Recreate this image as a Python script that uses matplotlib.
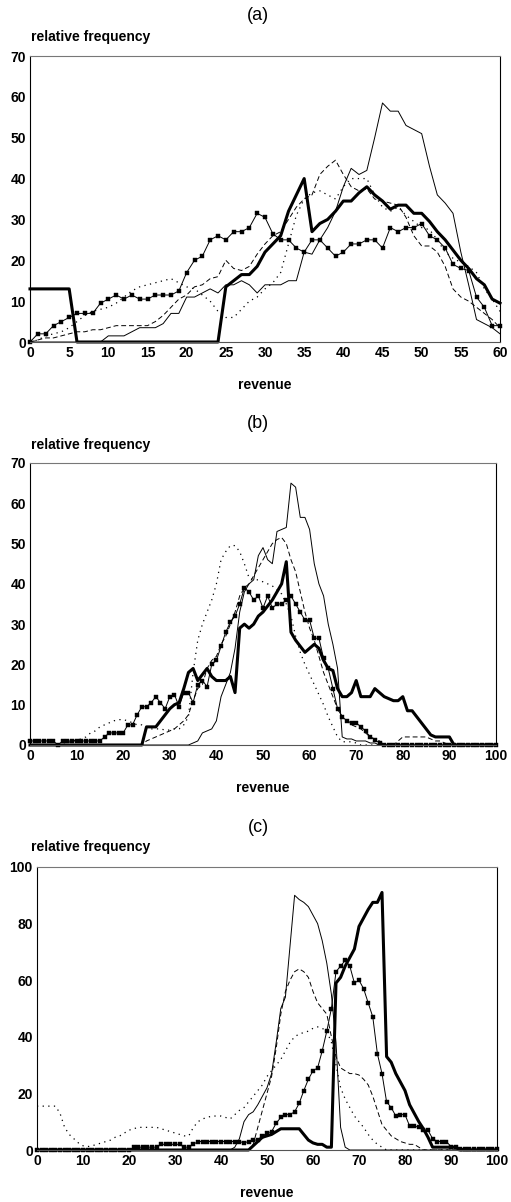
import matplotlib
matplotlib.use("Agg")
import matplotlib.pyplot as plt

plt.rcParams['font.family'] = ['Liberation Sans', 'DejaVu Sans']

# ---- panel (a): revenue 0..60 ----
a_x = list(range(61))
a_thin = [0, 0, 0, 0, 0, 0, 0, 0, 0, 0,
          1.5, 1.5, 1.5, 2.5, 3.5, 3.5, 3.5, 4.5, 7, 7,
          11, 11, 12, 13, 12, 14, 14, 15, 14, 12,
          14, 14, 14, 15, 15, 22, 21.5, 25, 28, 32,
          38, 42.5, 41, 42, 50, 58.5, 56.5, 56.5, 53, 52,
          51, 43, 36, 34, 31.5, 22, 14, 5.5, 4.5, 3.5,
          2]
a_dashed = [0, 0.5, 1, 1, 1.5, 2, 2.5, 2.5, 3, 3,
            3.5, 4, 4, 4, 4, 4, 5, 6.5, 8.5, 10.5,
            11.5, 13.5, 14, 15.5, 16, 20, 18, 17.5, 18.5, 21.5,
            24, 26, 27, 30, 33, 35, 36, 41, 43, 44.5,
            41, 38, 37, 37.5, 35, 34.5, 34, 33.5, 30.5, 26,
            23.5, 23.5, 22, 18.5, 13, 11, 10, 8.5, 7, 5.5,
            3.5]
a_dotted = [0, 0.5, 1.5, 2, 2.5, 3.5, 5, 6.5, 7.5, 8,
            8.5, 9.5, 11, 12.5, 13.5, 14, 14.5, 15, 15.5, 14.5,
            13.5, 13, 11.5, 10, 7.5, 6, 6, 8, 10, 11,
            13, 14.5, 17, 24, 31, 35, 36.5, 37, 36, 35,
            38, 40, 40, 40, 36, 33, 32, 33, 31, 29.5,
            28, 27.5, 25, 22, 20.5, 19.5, 18.5, 17, 13, 10.5,
            7.5]
a_thick = [13, 13, 13, 13, 13, 13, 0, 0, 0, 0,
           0, 0, 0, 0, 0, 0, 0, 0, 0, 0,
           0, 0, 0, 0, 0, 13.5, 15, 16.5, 16.5, 18.5,
           22, 24, 26, 32, 36, 40, 27, 29, 30, 32,
           34.5, 34.5, 36.5, 38, 36, 34.5, 32.5, 33.5, 33.5, 31.5,
           31.5, 29.5, 27, 25, 22.5, 20, 18, 15.5, 14, 10.5,
           9.5]
a_markers = [0, 2, 2, 4, 5, 6, 7, 7, 7, 9.5,
             10.5, 11.5, 10.5, 11.5, 10.5, 10.5, 11.5, 11.5, 11.5, 12.5,
             17, 20, 21, 25, 26, 25, 27, 27, 28, 31.5,
             30.5, 26.5, 25, 25, 23, 22, 25, 25, 23, 21,
             22, 24, 24, 25, 25, 23, 28, 27, 28, 28,
             29, 26, 25, 23, 19, 18, 17.5, 11, 8.5, 4,
             4]

# ---- panel (b): revenue 0..100 ----
b_x = list(range(101))
b_thin = [0] * 35 + [
    0.5, 1, 3, 3.5, 4, 6, 12, 15, 18, 24,
    33, 38, 40, 41, 47, 49, 46, 45, 53, 53.5,
    54, 65, 64, 56.5, 56.5, 53.5, 45, 40, 37, 30,
    25, 19, 2, 1.5, 1.5, 1, 1, 1, 0.5, 0.5] + [0] * 26
b_dashed = [0] * 25 + [
    1, 1.5, 2, 2.5, 3, 3.5, 4, 5, 6, 7.5,
    11, 14, 15, 19, 21, 22, 25, 27, 30, 33,
    37, 39, 40, 42, 44, 46, 48, 50, 51, 51.5,
    50, 46, 43, 38, 33, 29, 26, 22, 18, 15,
    12, 9, 7, 6, 5, 4.5, 4, 3, 2, 1.5,
    1, 0, 0, 0, 1, 2, 2, 2, 2, 2,
    2, 1.5, 1, 1, 0.5, 0] + [0] * 10
b_dotted = [0] * 8 + [
    0.5, 1, 1.2, 1.5, 2, 3, 3.5, 4.5, 5, 5.5,
    6, 6.3, 6.3, 6, 5.5, 5, 5, 4.5, 4, 4,
    4, 3.7, 3.7, 4, 4, 5, 7, 18, 26, 30,
    33, 36, 40, 46, 48, 49.5, 49.5, 48, 45, 41.5,
    41, 41, 40.5, 40, 39.5, 38.5, 37.5, 35, 32, 27,
    23, 20, 17.5, 15, 12.5, 10, 7, 4.5, 2, 0.8,
    0.8, 0.8, 0.5] + [0] * 30
b_thick = [0] * 25 + [
    4.5, 4.5, 4.5, 6, 7.5, 9, 10, 10.5, 14, 18,
    19, 16, 17.5, 19, 17, 16, 16, 16, 17, 13,
    29, 30, 29, 30, 32, 33, 34.5, 36, 38, 40,
    45.5, 28, 26, 24.5, 23, 24, 25, 24, 21, 19,
    18.5, 14, 12, 12, 13, 16, 12, 12, 12, 14,
    13, 12, 11.5, 11, 11, 12, 8.5, 8.5, 7, 5.5,
    4, 2.5, 2, 2, 2, 2] + [0] * 10
b_markers = [1, 1, 1, 1, 1, 1, 0, 1, 1, 1,
             1, 1, 1, 1, 1, 1, 2, 3, 3, 3,
             3, 5, 5, 7.5, 9.5, 9.5, 10.5, 12, 10.5, 9,
             12, 12.5, 9.5, 13, 13, 10.5, 15, 16, 14.5, 20,
             21, 24.5, 28, 30.5, 32, 35, 39, 38, 36, 37,
             34, 37, 34, 35, 35, 36, 37, 35, 33, 31,
             31, 26.5, 26.5, 21.5, 19, 14, 9, 7, 6, 5.5,
             5.5, 4.5, 3.5, 2, 1.3, 0.5, 0, 0, 0, 0] + [0] * 21

# ---- panel (c): revenue 0..100 ----
c_x = list(range(101))
c_dotted = [15.5, 15.5, 15.5, 15.5, 15.5, 13, 8, 5.5, 4, 2.5,
            1.5, 1.2, 1.5, 2, 2.5, 3, 3.5, 4.5, 5, 6,
            7, 7.5, 8, 8, 8, 8, 8, 7.5, 7, 6.5,
            6, 5.5, 5, 5, 8, 10, 11, 11.5, 12, 12,
            12, 11.5, 11, 12.5, 14, 15, 17, 19, 21, 23,
            26, 28, 30, 32, 35, 38, 40, 41, 41.5, 42,
            43, 43.5, 43, 42, 38, 30, 22, 18, 15, 12,
            10, 8, 5.5, 3.5, 2, 1] + [0] * 25
c_thin = [0] * 43 + [
    1, 4, 10, 12.5, 13.5, 16, 19, 22, 27, 38,
    50, 54, 72, 90, 88.5, 87.5, 86, 83, 80, 74,
    66, 55, 38, 8, 1] + [0] * 33
c_dashed = [0] * 47 + [
    2, 8, 14, 20, 26, 36, 48, 56, 60, 63,
    64, 63, 61, 56, 52, 50, 48, 40, 33, 29,
    28, 27, 27, 26.5, 25, 23, 19, 14, 9, 7,
    5, 4, 3, 2.5, 2, 2, 1] + [0] * 17
c_thick = [0] * 47 + [
    1.5, 3, 4.5, 5, 5.5, 6.5, 7.5, 7.5, 7.5, 7.5,
    7.5, 5.5, 3.5, 2.5, 2, 2, 1, 1, 59, 61,
    65, 68, 71, 79, 82, 85, 87.5, 87.5, 91, 33,
    31, 27, 24, 21, 16, 13, 10, 7.5, 4.5, 1,
    1, 1, 1, 1, 1] + [0] * 9
c_markers = [0] * 20 + [
    0, 1, 1, 1, 1, 1, 1, 2, 2, 2,
    2, 2, 1, 1, 2, 3, 3, 3, 3, 3,
    3, 3, 3, 3, 3, 2.5, 3, 3.5, 3.5, 5,
    6, 6.5, 9.5, 11.5, 12.5, 12.5, 13.5, 16.5, 21, 25,
    28, 29, 35, 42, 50, 63, 65, 67, 65, 59,
    60, 57, 52, 47, 34, 27, 17, 15, 12, 12.5,
    12.5, 8.5, 8.5, 8, 7, 7, 4, 3, 3, 3,
    1.2, 1, 0.5, 0.5, 0.3, 0.3, 0.3, 0.3, 0.3, 0.3,
    0.3]

W, H = 511, 1202
fig = plt.figure(figsize=(W / 100, H / 100), dpi=100)


def panel(left, right, top, bottom, letter, ylab_y, rev_y, xs, thin, dashed,
          dotted, markers, thick, xmax, xstep, ymax, ystep):
    ax = fig.add_axes([left / W, 1 - bottom / H, (right - left) / W, (bottom - top) / H])
    ax.plot(xs, thin, color='black', lw=0.7, clip_on=False)
    ax.plot(xs, dashed, color='black', lw=0.7, dashes=(5, 3), clip_on=False)
    ax.plot(xs, dotted, color='black', lw=0.9, dashes=(1, 3.5), clip_on=False)
    ax.plot(xs, markers, color='black', lw=0.7, marker='s', ms=2.5, mew=0.3,
            clip_on=False)
    ax.plot(xs, thick, color='black', lw=2.2, clip_on=False)
    ax.set_xlim(0, xmax)
    ax.set_ylim(0, ymax)
    ax.set_xticks(range(0, xmax + 1, xstep))
    ax.set_yticks(range(0, ymax + 1, ystep))
    ax.tick_params(length=0, labelsize=10, pad=3)
    for lab in ax.get_xticklabels() + ax.get_yticklabels():
        lab.set_fontweight('bold')
    for s in ['left', 'right']:
        ax.spines[s].set_linewidth(0.8)
    ax.spines['top'].set_color('#777777')
    ax.spines['top'].set_linewidth(0.8)
    ax.spines['bottom'].set_color('#555555')
    ax.spines['bottom'].set_linewidth(0.8)
    fig.text(258 / W, 1 - (top - 40) / H, letter, ha='center', va='center', fontsize=13)
    fig.text(31 / W, 1 - ylab_y / H, 'relative frequency', ha='left', va='center',
             fontsize=10, fontweight='bold')
    fig.text((left + right) / 2 / W, 1 - rev_y / H, 'revenue', ha='center', va='center',
             fontsize=10, fontweight='bold')
    return ax


panel(30, 500, 56, 342, '(a)', 37, 385, a_x, a_thin, a_dashed, a_dotted,
      a_markers, a_thick, 60, 5, 70, 10)
panel(30, 496, 463, 745, '(b)', 445, 788, b_x, b_thin, b_dashed, b_dotted,
      b_markers, b_thick, 100, 10, 70, 10)
panel(37, 497, 867, 1150, '(c)', 847, 1193, c_x, c_thin, c_dashed, c_dotted,
      c_markers, c_thick, 100, 10, 100, 20)

fig.savefig('out.png', dpi=100)
